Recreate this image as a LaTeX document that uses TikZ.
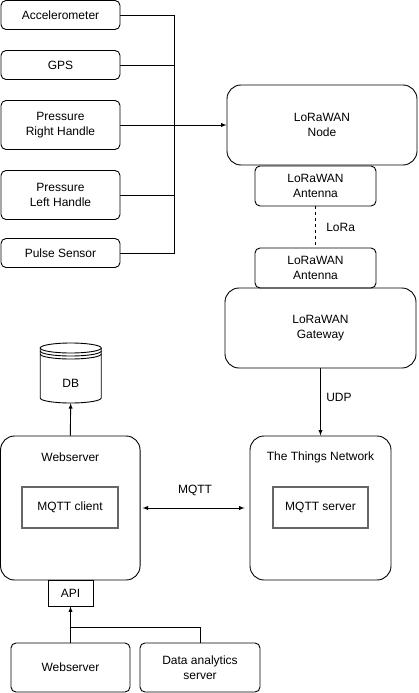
\documentclass[tikz,border=0pt]{standalone}
\usepackage{fontspec}
\setmainfont{Liberation Sans}
\usetikzlibrary{positioning}

\tikzset{
    box/.style={draw, line width=0.9pt, rounded corners=5pt, align=center,
        font=\fontsize{12}{15.5}\selectfont, inner sep=1pt},
    bigbox/.style={box, rounded corners=14pt},
    inner/.style={draw=black!60, line width=1.2pt, align=center,
        font=\fontsize{12}{15.5}\selectfont},
    wire/.style={line width=0.9pt},
    lbl/.style={font=\fontsize{12}{15.5}\selectfont}
}

\begin{document}
\begin{tikzpicture}[x=1pt, y=-1pt]
    \useasboundingbox (0,0) rectangle (419,693);

    % sensors
    \node[box, minimum width=119pt, minimum height=29pt] (acc) at (60.5,15) {Accelerometer};
    \node[box, minimum width=119pt, minimum height=29pt] (gps) at (60.5,65) {GPS};
    \node[box, minimum width=119pt, minimum height=49pt] (prh) at (60.5,125) {Pressure\\Right Handle};
    \node[box, minimum width=119pt, minimum height=49pt] (plh) at (60.5,195) {Pressure\\Left Handle};
    \node[box, minimum width=119pt, minimum height=29pt] (pulse) at (60.5,253) {Pulse Sensor};
    \coordinate (bus) at (174,125);

    % lora side
    \node[bigbox, minimum width=190pt, minimum height=80pt] (lnode) at (322,125) {LoRaWAN\\Node};
    \node[box, minimum width=121pt, minimum height=40pt] (ant1) at (315.5,186) {LoRaWAN\\Antenna};
    \node[box, minimum width=121pt, minimum height=40pt] (ant2) at (315.5,268) {LoRaWAN\\Antenna};
    \node[bigbox, minimum width=191pt, minimum height=80pt] (gw) at (320.5,328) {LoRaWAN\\Gateway};

    % servers
    \node[bigbox, minimum width=141pt, minimum height=144pt,
        label={[lbl, anchor=center, yshift=-22pt]north:The Things Network}] (ttn) at (320.5,508) {};
    \node[inner, minimum width=95pt, minimum height=41pt] (mqs) at (320.5,507.5) {MQTT server};
    \node[bigbox, minimum width=139.5pt, minimum height=144pt,
        label={[lbl, anchor=center, yshift=-22pt]north:Webserver}] (web) at (70.3,508) {};
    \node[inner, minimum width=96pt, minimum height=41pt] (mqc) at (70,507.5) {MQTT client};
    \node[box, rounded corners=0pt, minimum width=45pt, minimum height=26pt] (api) at (70.5,593) {API};
    \node[minimum width=61pt, minimum height=60pt, inner sep=0pt] (db) at (70.7,373) {};
    \node[box, minimum width=119pt, minimum height=49pt] (web2) at (70.5,667.5) {Webserver};
    \node[box, minimum width=120pt, minimum height=49pt] (das) at (200,667.5) {Data analytics\\server};
    \coordinate (join) at (70.5,627);

    % db cylinder
    \draw[wire] (40.2,348) -- (40.2,398) arc (180:0:30.5 and 5) -- (101.2,348);
    \draw[wire] (70.7,348) ellipse (30.5 and 5);
    \draw[wire] (40.2,351) arc (180:0:30.5 and 5);
    \draw[wire] (40.2,354) arc (180:0:30.5 and 5);
    \node[lbl] (dbtext) at (70.7,383) {DB};

    % connectors
    \foreach \s in {acc,gps,plh,pulse} {
        \draw[wire] (\s.east) -| (bus);
    }
    \draw[wire, -latex] (prh.east) -- (lnode.west);
    \draw[wire, dashed] (ant1.south) -- (ant2.north) node[lbl, midway, right=7pt] {LoRa};
    \draw[wire, -latex] (gw.south) -- (ttn.north) node[lbl, midway, right=2pt, yshift=5pt] {UDP};
    \draw[wire, latex-latex, shorten <=2pt, shorten >=5pt] (web.east) -- (ttn.west)
        node[lbl, midway, above=8pt] {MQTT};
    \draw[wire, -latex] (web.north) -- (db.south);
    \draw[wire, -latex] (web2.north) -- (api.south);
    \draw[wire] (das.north) |- (join);
\end{tikzpicture}
\end{document}
